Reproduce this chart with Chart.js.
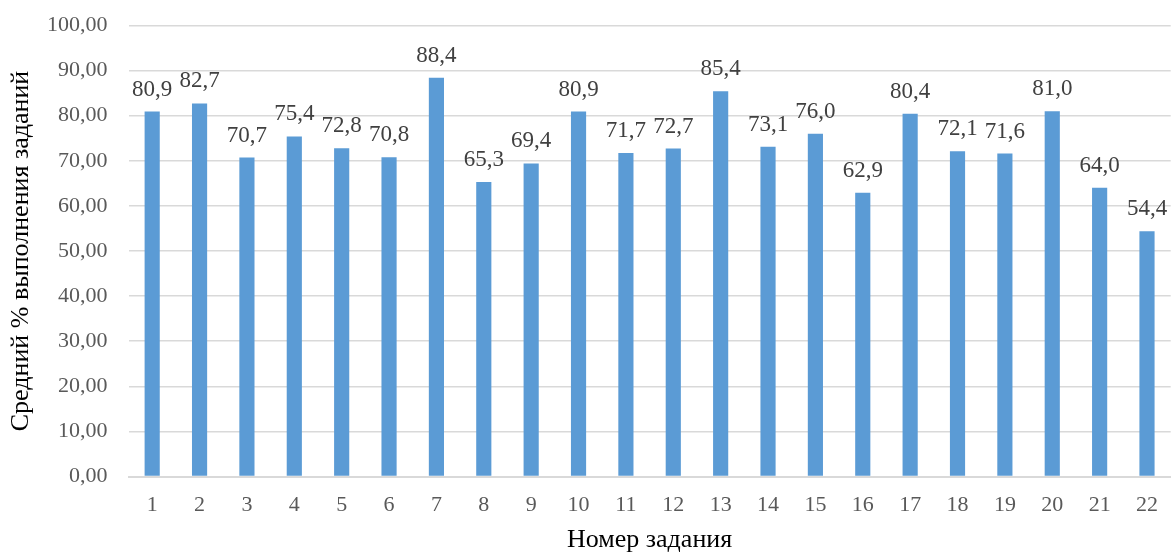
<!DOCTYPE html>
<html lang="ru">
<head>
    <meta charset="UTF-8">
    <script src="https://cdn.jsdelivr.net/npm/chart.js"></script>
    <title>Средний % выполнения заданий</title>
    <style>
        html, body { margin: 0; padding: 0; background: #fff; }
        .wrap { width: 1173px; height: 553px; }
    </style>
</head>
<body>
    <div class="wrap">
        <canvas id="grafico"></canvas>
    </div>
    <script>
        // Номера заданий
        const zadaniya = ['1','2','3','4','5','6','7','8','9','10','11','12','13','14','15','16','17','18','19','20','21','22'];
        // Средний % выполнения
        const procent = [80.9, 82.7, 70.7, 75.4, 72.8, 70.8, 88.4, 65.3, 69.4, 80.9, 71.7, 72.7, 85.4, 73.1, 76.0, 62.9, 80.4, 72.1, 71.6, 81.0, 64.0, 54.4];

        const shrift = "'Liberation Serif', 'Times New Roman', serif";

        // подписи над столбцами
        const podpisi = {
            id: 'podpisi',
            afterDatasetsDraw(chart) {
                const ctx = chart.ctx;
                const meta = chart.getDatasetMeta(0);
                ctx.save();
                ctx.font = '23px ' + shrift;
                ctx.fillStyle = '#404040';
                ctx.textAlign = 'center';
                ctx.textBaseline = 'alphabetic';
                meta.data.forEach((bar, i) => {
                    const txt = procent[i].toFixed(1).replace('.', ',');
                    ctx.fillText(txt, bar.x, bar.y - 16);
                });
                ctx.restore();
            }
        };

        new Chart(document.getElementById('grafico'), {
            type: 'bar',
            data: {
                labels: zadaniya,
                datasets: [{
                    data: procent,
                    backgroundColor: '#5B9BD5',
                    barPercentage: 0.32,
                    categoryPercentage: 1
                }]
            },
            options: {
                responsive: true,
                maintainAspectRatio: false,
                animation: false,
                layout: { padding: { top: 0, right: 0, left: 8, bottom: 0 } },
                plugins: {
                    legend: { display: false },
                    tooltip: { enabled: false }
                },
                scales: {
                    x: {
                        grid: { display: false, drawTicks: false },
                        border: { color: '#d9d9d9', width: 2 },
                        ticks: { color: '#595959', font: { family: shrift, size: 22 }, padding: 15 },
                        title: { display: true, text: 'Номер задания', color: '#000', font: { family: shrift, size: 26, lineHeight: 1 }, padding: { top: -6, bottom: 0 } }
                    },
                    y: {
                        min: 0,
                        max: 100,
                        grid: { color: '#d9d9d9', lineWidth: 1.5, drawTicks: false },
                        border: { display: false },
                        ticks: {
                            stepSize: 10,
                            color: '#595959',
                            font: { family: shrift, size: 22, lineHeight: 0.4 },
                            padding: 21,
                            callback: v => v.toFixed(2).replace('.', ',')
                        },
                        title: { display: true, text: 'Средний % выполнения заданий', color: '#000', font: { family: shrift, size: 26, lineHeight: 1 }, padding: { top: 0, bottom: -8 } }
                    }
                }
            },
            plugins: [podpisi]
        });
    </script>
</body>
</html>
